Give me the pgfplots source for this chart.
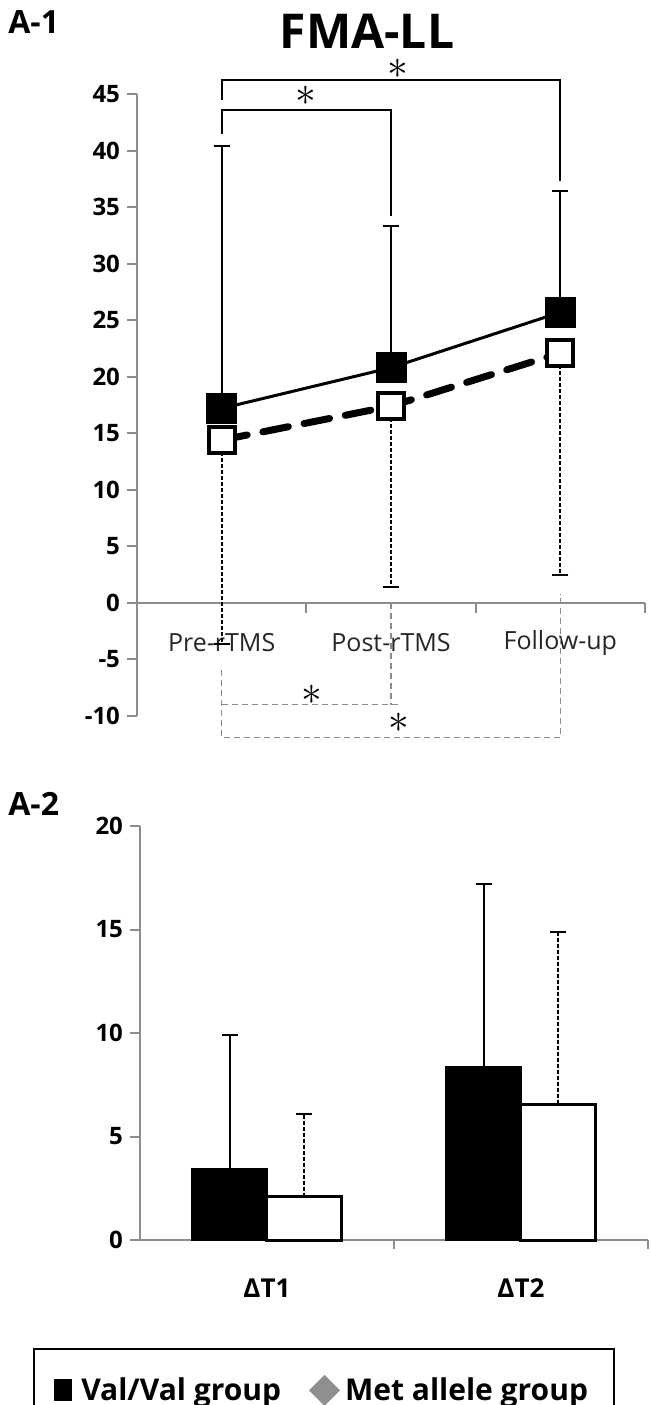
\documentclass[border=0pt]{standalone}
\usepackage{pgfplots}
\pgfplotsset{compat=1.18}
\usepackage{fontspec}
\setmainfont{Open Sans}
\definecolor{axgray}{HTML}{8C8C8C}
\definecolor{brgray}{HTML}{8A8A8A}
\definecolor{leggray}{HTML}{8F8F8F}
\begin{document}
\begin{tikzpicture}
% ---------------- Panel A-1 ----------------
\node[anchor=west, inner sep=0pt, font=\bfseries\fontsize{16}{19}\selectfont] at (4pt,-11pt) {A-1};
\node[inner sep=0pt, font=\bfseries\fontsize{24}{27}\selectfont] at (183.5pt,-15.5pt) {FMA-LL};
\begin{axis}[
  at={(68.5pt,-358pt)}, anchor=south west,
  scale only axis, width=254pt, height=311pt,
  xmin=0, xmax=3, ymin=-10, ymax=45,
  axis x line=middle, axis y line=left,
  axis line style={axgray, line width=1pt, -},
  xtick={0.5,1.5,2.5},
  xticklabels={Pre-rTMS,Post-rTMS,Follow-up},
  major x tick style={draw=none},
  xticklabel style={anchor=center, yshift=-15pt, font=\fontsize{12.5}{14}\selectfont, text=black!85},
  ytick={-10,-5,0,5,10,15,20,25,30,35,40,45},
  yticklabels={-10,-5,0,5,10,15,20,25,30,35,40,45},
  yticklabel style={font=\bfseries\fontsize{12}{14}\selectfont},
  major y tick style={axgray, line width=1pt},
  tick align=outside, major tick length=5pt,
  clip=false,
]
% x-axis tick marks at category boundaries
\draw[axgray, line width=1pt] (axis cs:1,0) -- (axis cs:1,-0.85);
\draw[axgray, line width=1pt] (axis cs:2,0) -- (axis cs:2,-0.85);
\draw[axgray, line width=1pt] (axis cs:3,0) -- (axis cs:3,-0.85);
% significance brackets (bottom, gray dashed)
\draw[brgray, line width=0.75pt, dash pattern=on 3pt off 2pt] (axis cs:0.5,-5.9) -- (axis cs:0.5,-11.9) -- (axis cs:2.5,-11.9) -- (axis cs:2.5,0.8);
\draw[brgray, line width=0.75pt, dash pattern=on 3pt off 2pt] (axis cs:0.5,-9) -- (axis cs:1.55,-9);
\draw[brgray, line width=0.75pt, dash pattern=on 3pt off 2pt] (axis cs:1.5,0) -- (axis cs:1.5,-9);
\node[inner sep=0pt] at (axis cs:1.03,-8.1) {\fontsize{21}{21}\selectfont$\ast$};
\node[inner sep=0pt] at (axis cs:1.545,-10.6) {\fontsize{21}{21}\selectfont$\ast$};
% Val/Val group
\addplot[black, line width=1.5pt, mark=square*, mark size=7pt, mark options={solid, fill=black},
  error bars/.cd, y dir=plus, y explicit, error mark=|,
  error bar style={line width=1pt, solid, black},
  error mark options={line width=1pt, mark size=4pt, solid, black}]
  coordinates {(0.5,17.2) +- (0,23.2) (1.5,20.8) +- (0,12.5) (2.5,25.7) +- (0,10.7)};
% Met allele group
\addplot[black, line width=3.5pt, dash pattern=on 13pt off 8pt, line cap=round,
  mark=square*, mark size=6.5pt, mark options={solid, fill=white, draw=black, line width=2pt},
  error bars/.cd, y dir=minus, y explicit, error mark=|,
  error bar style={line width=1pt, dash pattern=on 2pt off 1pt, line cap=butt, black},
  error mark options={line width=1pt, mark size=4pt, solid, line cap=butt, black}]
  coordinates {(0.5,14.4) +- (0,18.0) (1.5,17.4) +- (0,16.0) (2.5,22.1) +- (0,19.6)};
% significance brackets (top, solid)
\draw[black, line width=1pt] (axis cs:0.5,44.5) |- (axis cs:2.5,46.2) -- (axis cs:2.5,37.3);
\draw[black, line width=1pt] (axis cs:0.5,41.5) |- (axis cs:1.5,43.6) -- (axis cs:1.5,34.2);
\node[inner sep=0pt] at (axis cs:1.54,47.25) {\fontsize{21}{21}\selectfont$\ast$};
\node[inner sep=0pt] at (axis cs:1.0,44.8) {\fontsize{21}{21}\selectfont$\ast$};
\end{axis}
% ---------------- Panel A-2 ----------------
\node[anchor=west, inner sep=0pt, font=\bfseries\fontsize{16}{19}\selectfont] at (4pt,-402pt) {A-2};
\begin{axis}[
  at={(70pt,-620pt)}, anchor=south west,
  scale only axis, width=254pt, height=207pt,
  xmin=0, xmax=2, ymin=0, ymax=20,
  axis x line=bottom, axis y line=left,
  axis line style={axgray, line width=1pt, -},
  xtick={0.5,1.5}, xticklabels={ΔT1,ΔT2},
  major x tick style={draw=none},
  xticklabel style={font=\bfseries\fontsize{13}{15}\selectfont, yshift=-11pt},
  ytick={0,5,10,15,20}, yticklabels={0,5,10,15,20},
  yticklabel style={font=\bfseries\fontsize{12}{14}\selectfont},
  major y tick style={axgray, line width=1pt},
  tick align=outside, major tick length=5pt,
  clip=false,
  legend style={at={(axis description cs:-0.210,-0.262)}, anchor=north west,
    draw=black, line width=1pt, font=\bfseries\fontsize{15}{17}\selectfont,
    legend columns=2, inner xsep=6pt, inner ysep=12pt,
    /tikz/every even column/.append style={column sep=4.5pt}},
]
\draw[axgray, line width=1pt] (axis cs:1,0) -- (axis cs:1,-0.45);
\draw[axgray, line width=1pt] (axis cs:2,0) -- (axis cs:2,-0.45);
% Val/Val group bars (x shifted by half a bar width to the left of each category)
\addplot[forget plot, ybar, bar width=37.5pt, bar shift=0pt, fill=black, draw=black, line width=1pt,
  error bars/.cd, y dir=plus, y explicit, error mark=|,
  error bar style={line width=1pt, solid, black},
  error mark options={line width=1pt, mark size=4pt, black}]
  coordinates {(0.3524,3.45) +- (0,6.45) (1.3524,8.35) +- (0,8.85)};
% Met allele group bars (shifted to the right)
\addplot[forget plot, ybar, bar width=37.5pt, bar shift=0pt, fill=white, draw=black, line width=1.5pt,
  error bars/.cd, y dir=plus, y explicit, error mark=|,
  error bar style={line width=1pt, dash pattern=on 2pt off 1pt, black},
  error mark options={line width=1pt, mark size=4pt, solid, black}]
  coordinates {(0.6476,2.1) +- (0,4.0) (1.6476,6.57) +- (0,8.33)};
\addlegendimage{legend image code/.code={\path[draw=none,fill=none] (0pt,-6pt) rectangle (15.5pt,6pt); \fill[black, draw=none] (4pt,-5.5pt) rectangle (13pt,5.5pt);}}
\addlegendentry{Val/Val group}
\addlegendimage{legend image code/.code={\path[draw=none,fill=none] (0pt,-8pt) rectangle (23.5pt,8pt); \fill[leggray, draw=none] (7.5pt,0pt) -- (15.25pt,7.75pt) -- (23pt,0pt) -- (15.25pt,-7.75pt) -- cycle;}}
\addlegendentry{Met allele group\hspace*{5pt}}
\end{axis}
\pgfresetboundingbox
\path (0,0) rectangle (325.5pt,-702.5pt);
\end{tikzpicture}
\end{document}
